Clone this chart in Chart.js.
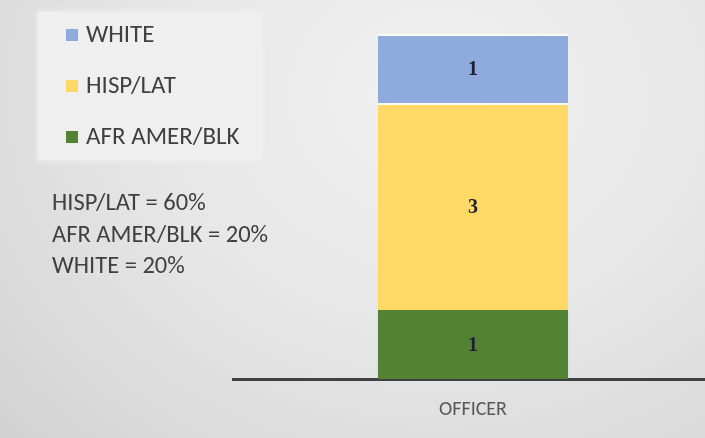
<!DOCTYPE html>
<html>
<head>
<meta charset="utf-8">
<script src="https://cdn.jsdelivr.net/npm/chart.js@4/dist/chart.umd.min.js"></script>
<style>
  html, body { margin: 0; padding: 0; }
  body {
    width: 705px; height: 438px; overflow: hidden; position: relative;
    background: radial-gradient(ellipse 85% 115% at 62% 22%, #f1f1f1 0%, #e6e6e6 50%, #d2d2d2 100%);
    font-family: Carlito, "Liberation Sans Narrow", "Open Sans", sans-serif;
    color: #404040;
  }
  #wrap { position: absolute; left: 0; top: 0; width: 714px; height: 438px; }
  #legende {
    position: absolute; left: 38px; top: 12px; width: 224px; height: 148px;
    background: #efefef; box-shadow: 0 0 5px 2px rgba(239,239,239,0.7);
  }
  .item { position: absolute; left: 28px; height: 30px; line-height: 30px; font-size: 25px; white-space: nowrap; }
  .item span.carre { display: inline-block; width: 12px; height: 12px; margin-right: 8px; vertical-align: 1px; }
  #notes { position: absolute; left: 52px; top: 187px; font-size: 24.5px; line-height: 31.5px; white-space: nowrap; }
</style>
</head>
<body>
<div id="wrap"><canvas id="graphique"></canvas></div>
<div id="legende"></div>
<div id="notes"></div>
<script>
// Données
const categories = ['OFFICER'];
const groupes = ['AFR AMER/BLK', 'HISP/LAT', 'WHITE'];
const valeurs = [[1], [3], [1]];
const couleurs = ['#548235', '#FFD966', '#8FAADC'];
const ordreNotes = ['HISP/LAT', 'AFR AMER/BLK', 'WHITE'];

const datasets = groupes.map((g, i) => ({
    label: g,
    data: valeurs[i],
    backgroundColor: couleurs[i],
    borderColor: 'rgba(255,255,240,0.7)',
    borderWidth: { top: i > 0 ? 2 : 0 },
    borderSkipped: false,
    categoryPercentage: 1,
    barPercentage: 0.396
}));

// étiquettes de valeurs au centre des segments
const etiquettes = {
    id: 'etiquettes',
    afterDatasetsDraw(chart) {
        const ctx = chart.ctx;
        ctx.save();
        ctx.font = 'bold 20px "Liberation Serif", "DejaVu Serif", serif';
        ctx.fillStyle = '#1e1e34';
        ctx.textAlign = 'center';
        ctx.textBaseline = 'middle';
        chart.data.datasets.forEach((ds, i) => {
            chart.getDatasetMeta(i).data.forEach((bar, j) => {
                const p = bar.getProps(['x', 'y', 'base'], true);
                ctx.fillText(ds.data[j], p.x, (p.y + p.base) / 2 + 1);
            });
        });
        ctx.restore();
    }
};

const canvas = document.getElementById('graphique');
canvas.width = 714;
canvas.height = 438;

const chart = new Chart(canvas.getContext('2d'), {
    type: 'bar',
    data: { labels: categories, datasets: datasets },
    options: {
        responsive: false,
        animation: false,
        layout: { padding: { left: 233, right: 1, top: 34, bottom: -3 } },
        scales: {
            x: {
                stacked: true,
                z: 1,
                grid: { display: false, drawTicks: false },
                border: { display: true, color: '#404040', width: 3 },
                ticks: {
                    padding: 19,
                    color: '#595959',
                    font: { family: 'Carlito, "Liberation Sans Narrow", "Open Sans", sans-serif', size: 20 }
                }
            },
            y: { stacked: true, display: false, min: 0, max: 5 }
        },
        plugins: { legend: { display: false }, tooltip: { enabled: false } }
    },
    plugins: [etiquettes]
});

// Légende HTML (ordre inverse, WHITE en haut)
const legende = document.getElementById('legende');
groupes.slice().reverse().forEach((g, k) => {
    const i = groupes.indexOf(g);
    const div = document.createElement('div');
    div.className = 'item';
    div.style.top = (7 + k * 51) + 'px';
    div.innerHTML = '<span class="carre" style="background:' + couleurs[i] + '"></span>' + g;
    legende.appendChild(div);
});

// Pourcentages
const total = valeurs.reduce((s, v) => s + v[0], 0);
document.getElementById('notes').innerHTML = ordreNotes.map(g => {
    const v = valeurs[groupes.indexOf(g)][0];
    return g + ' = ' + Math.round(v / total * 100) + '%';
}).join('<br>');
</script>
</body>
</html>
